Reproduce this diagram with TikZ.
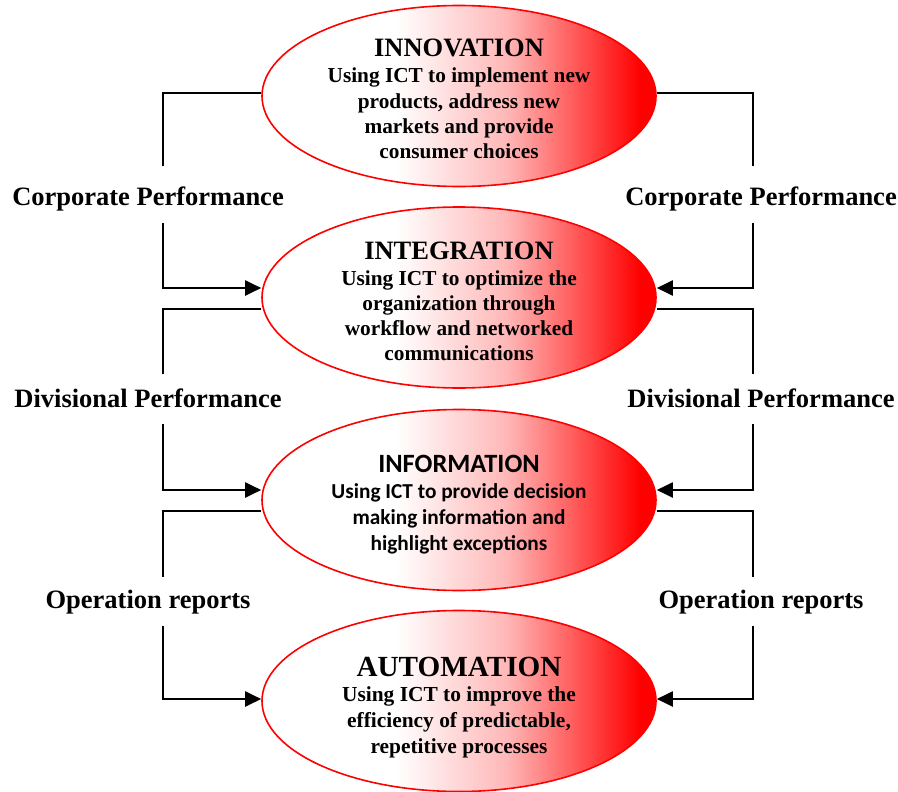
\documentclass[tikz,border=0pt]{standalone}
\usepackage{fontspec}
\setmainfont{Liberation Serif}
\newfontfamily\calib{Carlito}
\usetikzlibrary{arrows.meta,shapes.geometric}
\pgfdeclarehorizontalshading{ellshade}{100bp}{color(0bp)=(white); color(25bp)=(white); color(42bp)=(white); color(56bp)=(red!28); color(73bp)=(red); color(100bp)=(red)}
\tikzset{
  ell/.style={ellipse, draw=red, line width=1.6pt, shading=ellshade, minimum width=394pt, minimum height=181pt, inner sep=0pt},
  ttl/.style={anchor=base, inner sep=0pt, font=\rmfamily\bfseries\fontsize{26.5}{30}\selectfont},
  body/.style={anchor=base, inner sep=0pt, font=\rmfamily\bfseries\fontsize{21.3}{25.3}\selectfont},
  lab/.style={anchor=base, inner sep=0pt, font=\rmfamily\bfseries\fontsize{26.5}{30}\selectfont},
  conn/.style={line width=2pt, black},
  arr/.style={conn, -{Triangle[length=16pt,width=15pt]}}
}
\begin{document}
\begin{tikzpicture}[x=1pt,y=-1pt]
\useasboundingbox (0,0) rectangle (898,792);
% ellipses
\node[ell] (inno) at (459,96) {};
\node[ell] (integ) at (459,297.5) {};
\node[ell] (info) at (459,500) {};
\node[ell] (auto) at (459,701) {};
% texts
\node[ttl] (t1) at (459,57) {INNOVATION};
\node[body] (b1) at (459,83) {\begin{tabular}[t]{@{}c@{}}Using ICT to implement new\\products, address new\\markets and provide\\consumer choices\end{tabular}};
\node[ttl] (t2) at (459,259) {INTEGRATION};
\node[body] (b2) at (459,285) {\begin{tabular}[t]{@{}c@{}}Using ICT to optimize the\\organization through\\workflow and networked\\communications\end{tabular}};
\node[ttl, font=\calib\bfseries\fontsize{26.4}{30}\selectfont] (t3) at (459,472) {INFORMATION};
\node[body, font=\calib\bfseries\fontsize{21.3}{26}\selectfont] (b3) at (459,498) {\begin{tabular}[t]{@{}c@{}}Using ICT to provide decision\\making information and\\highlight exceptions\end{tabular}};
\node[ttl, font=\rmfamily\bfseries\fontsize{29.2}{33}\selectfont] (t4) at (459,676) {AUTOMATION};
\node[body, font=\rmfamily\bfseries\fontsize{21.4}{26}\selectfont] (b4) at (459,701) {\begin{tabular}[t]{@{}c@{}}Using ICT to improve the\\efficiency of predictable,\\repetitive processes\end{tabular}};
% labels
\node[lab] (lc) at (148,205) {Corporate Performance};
\node[lab] (rc) at (761,205) {Corporate Performance};
\node[lab] (ld) at (148,407) {Divisional Performance};
\node[lab] (rd) at (761,407) {Divisional Performance};
\node[lab] (lo) at (148,608.5) {Operation reports};
\node[lab] (ro) at (761,608.5) {Operation reports};
% corners and free ends (left)
\coordinate (lx1) at (163,92.7);
\coordinate (la1) at (163,165.7);
\coordinate (lb1) at (163,222.7);
\coordinate (ly1) at (163,288);
\coordinate (lx2) at (163,309);
\coordinate (la2) at (163,374);
\coordinate (lb2) at (163,424);
\coordinate (ly2) at (163,490);
\coordinate (lx3) at (163,511);
\coordinate (la3) at (163,577);
\coordinate (lb3) at (163,626);
\coordinate (ly3) at (163,699);
% corners and free ends (right)
\coordinate (rx1) at (753,92.7);
\coordinate (ra1) at (753,165.7);
\coordinate (rb1) at (753,222.7);
\coordinate (ry1) at (753,288);
\coordinate (rx2) at (753,309);
\coordinate (ra2) at (753,374);
\coordinate (rb2) at (753,424);
\coordinate (ry2) at (753,490);
\coordinate (rx3) at (753,511);
\coordinate (ra3) at (753,577);
\coordinate (rb3) at (753,626);
\coordinate (ry3) at (753,699);
% left connectors
\draw[conn] (lx1 -| inno.west) -- (lx1) -- (la1);
\draw[arr] (lb1) -- (ly1) -- (ly1 -| integ.west);
\draw[conn] (lx2 -| integ.west) -- (lx2) -- (la2);
\draw[arr] (lb2) -- (ly2) -- (ly2 -| info.west);
\draw[conn] (lx3 -| info.west) -- (lx3) -- (la3);
\draw[arr] (lb3) -- (ly3) -- (ly3 -| auto.west);
% right connectors
\draw[conn] (rx1 -| inno.east) -- (rx1) -- (ra1);
\draw[arr] (rb1) -- (ry1) -- (ry1 -| integ.east);
\draw[conn] (rx2 -| integ.east) -- (rx2) -- (ra2);
\draw[arr] (rb2) -- (ry2) -- (ry2 -| info.east);
\draw[conn] (rx3 -| info.east) -- (rx3) -- (ra3);
\draw[arr] (rb3) -- (ry3) -- (ry3 -| auto.east);
\end{tikzpicture}
\end{document}
